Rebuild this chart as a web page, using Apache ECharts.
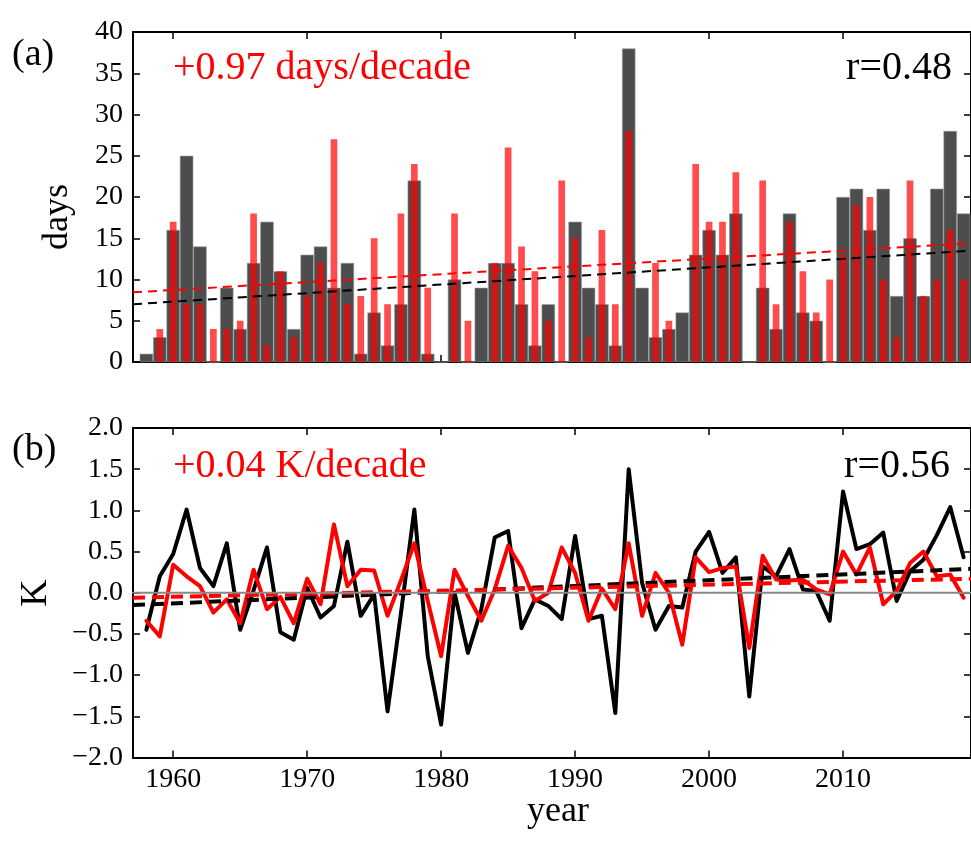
<!DOCTYPE html>
<html>
<head>
<meta charset="utf-8">
<title>days / K</title>
<script src="https://cdn.jsdelivr.net/npm/echarts@6/dist/echarts.min.js"></script>
<style>
  html, body { margin: 0; background: #fff; }
  #chart { width: 971px; height: 842px; }
</style>
</head>
<body>
<div id="chart"></div>
<script>
// years 1958-2019
var years = [1958, 1959, 1960, 1961, 1962, 1963, 1964, 1965, 1966, 1967,
  1968, 1969, 1970, 1971, 1972, 1973, 1974, 1975, 1976, 1977,
  1978, 1979, 1980, 1981, 1982, 1983, 1984, 1985, 1986, 1987,
  1988, 1989, 1990, 1991, 1992, 1993, 1994, 1995, 1996, 1997,
  1998, 1999, 2000, 2001, 2002, 2003, 2004, 2005, 2006, 2007,
  2008, 2009, 2010, 2011, 2012, 2013, 2014, 2015, 2016, 2017,
  2018, 2019];

// (a) days, dark bars and red bars
var daysBlack = [1, 3, 16, 25, 14, 0, 9, 4, 12, 17,
  11, 4, 13, 14, 9, 12, 1, 6, 2, 7,
  22, 1, 0, 10, 0, 9, 12, 12, 7, 2,
  7, 0, 17, 9, 7, 2, 38, 9, 3, 4,
  6, 13, 16, 13, 18, 0, 9, 4, 18, 6,
  5, 0, 20, 21, 16, 21, 8, 15, 8, 21,
  28, 18];
var daysRed = [0, 4, 17, 7, 7, 4, 4, 5, 18, 2,
  11, 3, 8, 12, 27, 7, 8, 15, 7, 18,
  24, 9, 0, 18, 5, 0, 12, 26, 14, 11,
  5, 22, 15, 3, 16, 7, 28, 0, 12, 5,
  0, 24, 17, 17, 23, 0, 22, 7, 17, 11,
  6, 10, 13, 19, 20, 10, 3, 22, 8, 10,
  16, 10];

// (b) K anomalies
var kBlack = [-0.45, 0.2, 0.47, 1.01, 0.3, 0.08, 0.6, -0.45, 0.03, 0.55,
  -0.48, -0.57, 0.06, -0.3, -0.16, 0.62, -0.28, -0.02, -1.44, -0.25,
  1.01, -0.77, -1.6, 0.0, -0.73, -0.2, 0.67, 0.75, -0.43, -0.08,
  -0.16, -0.32, 0.69, -0.32, -0.28, -1.46, 1.5, 0.12, -0.45, -0.16,
  -0.18, 0.5, 0.74, 0.24, 0.43, -1.26, 0.32, 0.2, 0.53, 0.04,
  0.02, -0.34, 1.23, 0.53, 0.59, 0.73, -0.1, 0.26, 0.4, 0.7,
  1.04, 0.43];
var kRed = [-0.34, -0.53, 0.34, 0.2, 0.08, -0.24, -0.08, -0.37, 0.28, -0.2,
  -0.05, -0.37, 0.17, -0.14, 0.83, 0.08, 0.28, 0.27, -0.28, 0.15,
  0.6, -0.1, -0.77, 0.28, -0.04, -0.34, 0.04, 0.57, 0.3, -0.1,
  0.0, 0.55, 0.24, -0.34, 0.05, -0.2, 0.6, -0.28, 0.24, 0.0,
  -0.63, 0.43, 0.25, 0.3, 0.32, -0.67, 0.45, 0.16, 0.15, 0.16,
  0.04, -0.02, 0.5, 0.22, 0.55, -0.14, 0.02, 0.36, 0.5, 0.2,
  0.22, -0.06];

// trend lines, end points read at the plot edges
var trendDaysRed = [[1957, 8.45], [2019.55, 14.4]];
var trendDaysBlack = [[1957, 7.0], [2019.55, 13.5]];
var trendKBlack = [[1957, -0.15], [2019.55, 0.29]];
var trendKRed = [[1957, -0.06], [2019.55, 0.17]];
var zeroLine = [[1957, 0], [2019.55, 0]];

var yearTicks = [1960, 1970, 1980, 1990, 2000, 2010];
var xMin = 1957, xMax = 2019.55;

var FONT = 'Liberation Serif';

function pairs(vals) {
  return years.map(function (y, i) { return [y, vals[i]]; });
}

function xAx(grid, pos, labels) {
  return {
    type: 'value', gridIndex: grid, position: pos, min: xMin, max: xMax,
    axisLine: { show: true, onZero: false, lineStyle: { color: '#000', width: 2 } },
    axisTick: { show: true, inside: true, length: 7, customValues: yearTicks,
      lineStyle: { color: '#000', width: 1.5 } },
    axisLabel: { show: labels, customValues: yearTicks, margin: 8,
      fontFamily: FONT, fontSize: 28, color: '#000',
      formatter: function (v) { return String(v); } },
    splitLine: { show: false }
  };
}

function yAx(grid, pos, min, max, step, labels, fmt) {
  return {
    type: 'value', gridIndex: grid, position: pos, min: min, max: max, interval: step,
    axisLine: { show: true, onZero: false, lineStyle: { color: '#000', width: 2 } },
    axisTick: { show: true, inside: true, length: 7, lineStyle: { color: '#000', width: 1.5 } },
    axisLabel: { show: labels, margin: 10, fontFamily: FONT, fontSize: 28, color: '#000',
      formatter: fmt },
    splitLine: { show: false }
  };
}

function kFmt(v) {
  return v.toFixed(1).replace('-', '\u2212');
}

function dashed(xi, yi, data, color, width, dash) {
  return {
    type: 'line', xAxisIndex: xi, yAxisIndex: yi, data: data,
    symbol: 'none', silent: true,
    lineStyle: { color: color, width: width, type: dash }
  };
}

function solid(xi, yi, data, color, width) {
  return {
    type: 'line', xAxisIndex: xi, yAxisIndex: yi, data: data,
    symbol: 'none', silent: true,
    lineStyle: { color: color, width: width, join: 'round', cap: 'round' }
  };
}

function txt(text, x, y, size, color, align, rot) {
  return {
    type: 'text', x: x, y: y, rotation: rot || 0,
    style: { text: text, font: size + 'px "Liberation Serif"', fill: color,
      align: align, verticalAlign: 'middle' }
  };
}

var chart = echarts.init(document.getElementById('chart'), null, { renderer: 'canvas' });

var option = {
  animation: false,
  backgroundColor: '#fff',
  grid: [
    { left: 133, top: 32, width: 842, height: 330 },
    { left: 133, top: 428, width: 842, height: 329.5 }
  ],
  xAxis: [
    xAx(0, 'bottom', false),
    xAx(0, 'top', false),
    xAx(1, 'bottom', true),
    xAx(1, 'top', false)
  ],
  yAxis: [
    yAx(0, 'left', 0, 40, 5, true),
    yAx(0, 'right', 0, 40, 5, false),
    yAx(1, 'left', -2, 2, 0.5, true, kFmt),
    yAx(1, 'right', -2, 2, 0.5, false)
  ],
  series: [
    { type: 'bar', xAxisIndex: 0, yAxisIndex: 0, data: pairs(daysBlack),
      barWidth: '100%', itemStyle: { color: '#4d4d4d', borderColor: '#9a9a9a', borderWidth: 0.6 },
      silent: true },
    { type: 'bar', xAxisIndex: 1, yAxisIndex: 0, data: pairs(daysRed),
      barWidth: '50%', itemStyle: { color: 'rgba(255,0,0,0.7)' }, silent: true },
    dashed(0, 0, trendDaysRed, '#ff0000', 2, [9, 6]),
    dashed(0, 0, trendDaysBlack, '#000000', 2, [9, 6]),
    solid(2, 2, pairs(kBlack), '#000000', 4),
    solid(2, 2, pairs(kRed), '#ff0000', 4),
    dashed(2, 2, trendKBlack, '#000000', 4, [12, 7]),
    dashed(2, 2, trendKRed, '#ff0000', 4, [12, 7]),
    solid(2, 2, zeroLine, '#888888', 2)
  ],
  graphic: [
    txt('(a)', 12, 55, 38, '#000', 'left'),
    txt('(b)', 12, 450, 38, '#000', 'left'),
    txt('+0.97 days/decade', 173, 68, 40, '#ff0000', 'left'),
    txt('r=0.48', 952, 68, 40, '#000', 'right'),
    txt('+0.04 K/decade', 173, 466, 40, '#ff0000', 'left'),
    txt('r=0.56', 950, 466, 40, '#000', 'right'),
    txt('days', 58, 217, 36, '#000', 'center', Math.PI / 2),
    txt('K', 36, 593, 38, '#000', 'center', Math.PI / 2),
    txt('year', 558, 812, 36, '#000', 'center')
  ]
};

chart.setOption(option);
</script>
</body>
</html>
